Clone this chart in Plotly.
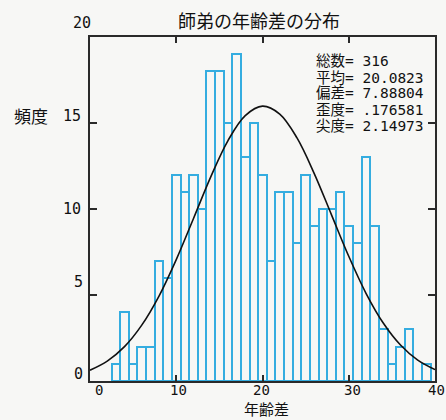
import plotly.graph_objects as go

# ---- data ----
AGE_GAP = [3, 4, 5, 6, 7, 8, 9, 10, 11, 12, 13, 14, 15, 16, 17, 18, 19, 20,
           21, 22, 23, 24, 25, 26, 27, 28, 29, 30, 31, 32, 33, 34, 35, 36, 37, 38, 39]
FREQ = [1, 4, 1, 2, 2, 7, 6, 12, 11, 12, 10, 18, 18, 15, 19, 13, 15, 12,
        7, 11, 11, 8, 12, 9, 10, 10, 11, 9, 8, 13, 9, 3, 1, 2, 3, 0, 1]

CURVE_X = [0, 2, 4, 6, 8, 10, 12, 14, 16, 18, 20, 22, 24, 26, 28, 30, 32, 34, 36, 38, 40]
CURVE_Y = [0.63, 1.16, 2.0, 3.25, 4.94, 7.06, 9.45, 11.87, 13.98, 15.43, 15.98,
           15.52, 14.13, 12.06, 9.66, 7.25, 5.10, 3.37, 2.09, 1.21, 0.66]

X_TICKS = [0, 10, 20, 30, 40]
Y_TICKS = [0, 5, 10, 15, 20]

STAT_LABELS = ["総数", "平均", "偏差", "歪度", "尖度"]
STAT_VALUES = ["316", "20.0823", "7.88804", ".176581", "2.14973"]

TITLE = "師弟の年齢差の分布"
X_TITLE = "年齢差"
Y_TITLE = "頻度"

# ---- styling ----
W, H = 446, 420
ML, MR, MT, MB = 90, 9, 37, 39
PW, PH = W - ML - MR, H - MT - MB
BG = "#f7f7f5"
BAR_COLOR = "#35ade0"
FRAME = "#2a2a2a"
MONO = "DejaVu Sans Mono, monospace"
MONO_CJK = "DejaVu Sans Mono, Noto Sans CJK JP, monospace"
CJK = "Noto Sans CJK JP, sans-serif"


def px_x(px):
    return (px - ML) / PW


def px_y(py):
    return (H - MB - py) / PH


fig = go.Figure()
fig.add_trace(go.Bar(
    x=AGE_GAP, y=FREQ, width=1,
    marker=dict(color="rgba(0,0,0,0)", line=dict(color=BAR_COLOR, width=2)),
    showlegend=False, hoverinfo="x+y",
))
fig.add_trace(go.Scatter(
    x=CURVE_X, y=CURVE_Y, mode="lines", line_shape="spline",
    line=dict(color="#111111", width=1.6), showlegend=False,
))

annotations = []
# y tick labels (placed like the original, slightly offset)
y_shifts = [7, 13, 0, 7, 14]
y_right = [-5, -5, -7, -7, 3]
for v, sh, xr in zip(Y_TICKS, y_shifts, y_right):
    annotations.append(dict(
        x=0, xref="paper", y=v, yref="y", text=str(v), showarrow=False,
        xanchor="right", yanchor="middle", xshift=xr, yshift=sh,
        font=dict(family=MONO, size=15, color="#111"),
    ))

# x tick labels
x_shifts = [9, 2, -1, 4, 1]
for v, xs in zip(X_TICKS, x_shifts):
    annotations.append(dict(
        x=v, xref="x", y=px_y(390), yref="paper", text=str(v), showarrow=False,
        xanchor="center", yanchor="middle", xshift=xs,
        font=dict(family=MONO, size=14, color="#111"),
    ))

# statistics box
stat_py = [61, 77.5, 93.5, 110, 126]
for lab, val, py in zip(STAT_LABELS, STAT_VALUES, stat_py):
    annotations.append(dict(
        x=px_x(315), xref="paper", y=px_y(py), yref="paper",
        text=f"{lab}= {val}", showarrow=False, xanchor="left", yanchor="middle",
        font=dict(family=MONO_CJK, size=14.5, color="#111"),
    ))

# axis titles
annotations.append(dict(
    x=px_x(31), xref="paper", y=px_y(116), yref="paper",
    text=Y_TITLE, showarrow=False, xanchor="center", yanchor="middle",
    font=dict(family=CJK, size=17, color="#111"),
))
annotations.append(dict(
    x=px_x(268), xref="paper", y=px_y(408), yref="paper",
    text=X_TITLE, showarrow=False, xanchor="center", yanchor="middle",
    font=dict(family=CJK, size=15, color="#111"),
))

fig.update_layout(
    width=W, height=H,
    margin=dict(l=ML, r=MR, t=MT, b=MB, pad=0),
    paper_bgcolor=BG, plot_bgcolor=BG,
    bargap=0,
    title=dict(text=TITLE, x=259 / W, xref="container", xanchor="center",
               y=1 - 22 / H, yref="container", yanchor="middle",
               font=dict(family=CJK, size=18, color="#111")),
    annotations=annotations,
    xaxis=dict(range=[0, 40], tickvals=X_TICKS, showticklabels=False,
               ticks="inside", ticklen=6, tickcolor=FRAME, tickwidth=1.5,
               showline=True, linecolor=FRAME, linewidth=1.5, mirror="ticks",
               showgrid=False, zeroline=False),
    yaxis=dict(range=[0, 20], tickvals=Y_TICKS, showticklabels=False,
               ticks="inside", ticklen=7, tickcolor=FRAME, tickwidth=1.5,
               showline=True, linecolor=FRAME, linewidth=1.5, mirror="ticks",
               showgrid=False, zeroline=False),
)

fig.write_html(
    "out.html",
    config={"displayModeBar": False},
    post_script="document.body.style.margin='0';document.body.style.overflow='hidden';",
)
